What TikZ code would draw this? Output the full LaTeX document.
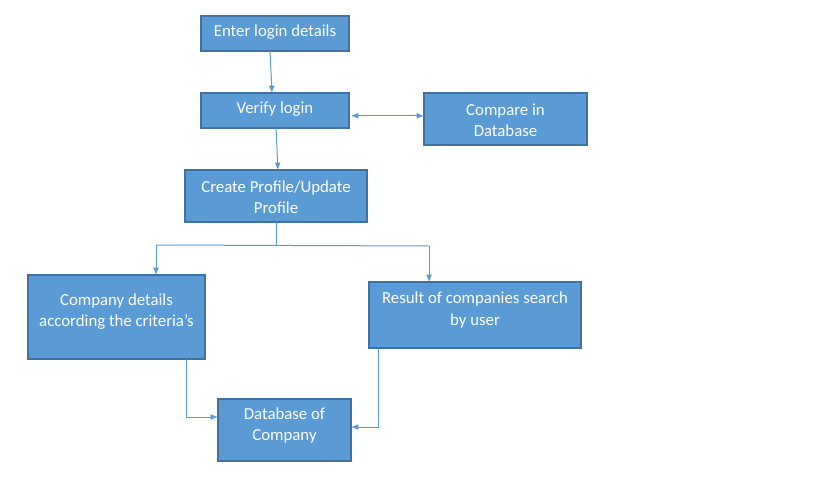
\documentclass[tikz,border=0pt]{standalone}
\usepackage{fontspec}
\setmainfont{Carlito}
\usetikzlibrary{arrows.meta}
\definecolor{boxfill}{HTML}{5B9BD5}
\definecolor{boxline}{HTML}{41719C}
\definecolor{conn}{HTML}{5B9BD5}
\begin{document}
\begin{tikzpicture}[x=0.75pt,y=-0.75pt,
  box/.style={draw=boxline,fill=boxfill,line width=0.9pt,inner sep=0pt,outer sep=0pt},
  txt/.style={text=white,font=\fontsize{12.6}{15.8}\selectfont,align=center,inner sep=0pt},
  conn/.style={draw=conn,line width=0.75pt,-{Latex[length=5.5pt,width=4.5pt]}},
  dconn/.style={draw=conn,line width=0.75pt,{Latex[length=5.5pt,width=4.5pt]}-{Latex[length=5.5pt,width=4.5pt]}},
  plain/.style={draw=conn,line width=0.75pt}]
\useasboundingbox (0,0) rectangle (819,489);
\fill[white] (0,0) rectangle (819,489);
% boxes
\node[box,minimum width=111pt,minimum height=26.25pt] (enter) at (275,33.5) {};
\node[box,minimum width=111pt,minimum height=26.25pt] (verify) at (275,110.5) {};
\node[box,minimum width=122.25pt,minimum height=39pt] (compare) at (505.5,119) {};
\node[box,minimum width=136.5pt,minimum height=39pt] (create) at (276,196) {};
\node[box,minimum width=132.75pt,minimum height=63pt] (company) at (116.5,317) {};
\node[box,minimum width=159pt,minimum height=49.5pt] (result) at (475,315) {};
\node[box,minimum width=99.75pt,minimum height=46.5pt] (db) at (284.5,430) {};
% texts
\node[txt] (t1) at (275,32.5) {Enter login details};
\node[txt] (t2) at (275,109) {Verify login};
\node[txt] (t3) at (505.5,120) {Compare in\\Database};
\node[txt] (t4) at (276,197.5) {Create Profile/Update\\Profile};
\node[txt] (t5) at (116.5,312) {Company details\\according the criteria’s};
\node[txt] (t6) at (475,310) {Result of companies search\\by user};
\node[txt] (t7) at (284.5,425.5) {Database of\\Company};
% connectors
\coordinate (c1) at (276,245);
\coordinate (cl) at (156,245);
\coordinate (cr) at (429,246);
\coordinate (e1) at (186,417);
\coordinate (e2) at (378,427);
\draw[conn] ([xshift=-3.75pt]enter.south) -- ([xshift=-2.25pt]verify.north);
\draw[conn] ([xshift=0.75pt]verify.south) -- ([xshift=1.5pt]create.north);
\draw[dconn] ([xshift=1.5pt,yshift=-4pt]verify.east) -- ([yshift=-4pt]verify.east -| compare.west);
\draw[plain] (create.south) -- (c1);
\draw[plain] (cl) -- (cr);
\draw[conn] (cl) -- (cl |- company.north);
\draw[conn] (cr) -- (cr |- result.north);
\draw[conn] (company.south -| e1) -- (e1) -- (e1 -| db.west);
\draw[conn] (result.south -| e2) -- (e2) -- (e2 -| db.east);
\end{tikzpicture}
\end{document}
